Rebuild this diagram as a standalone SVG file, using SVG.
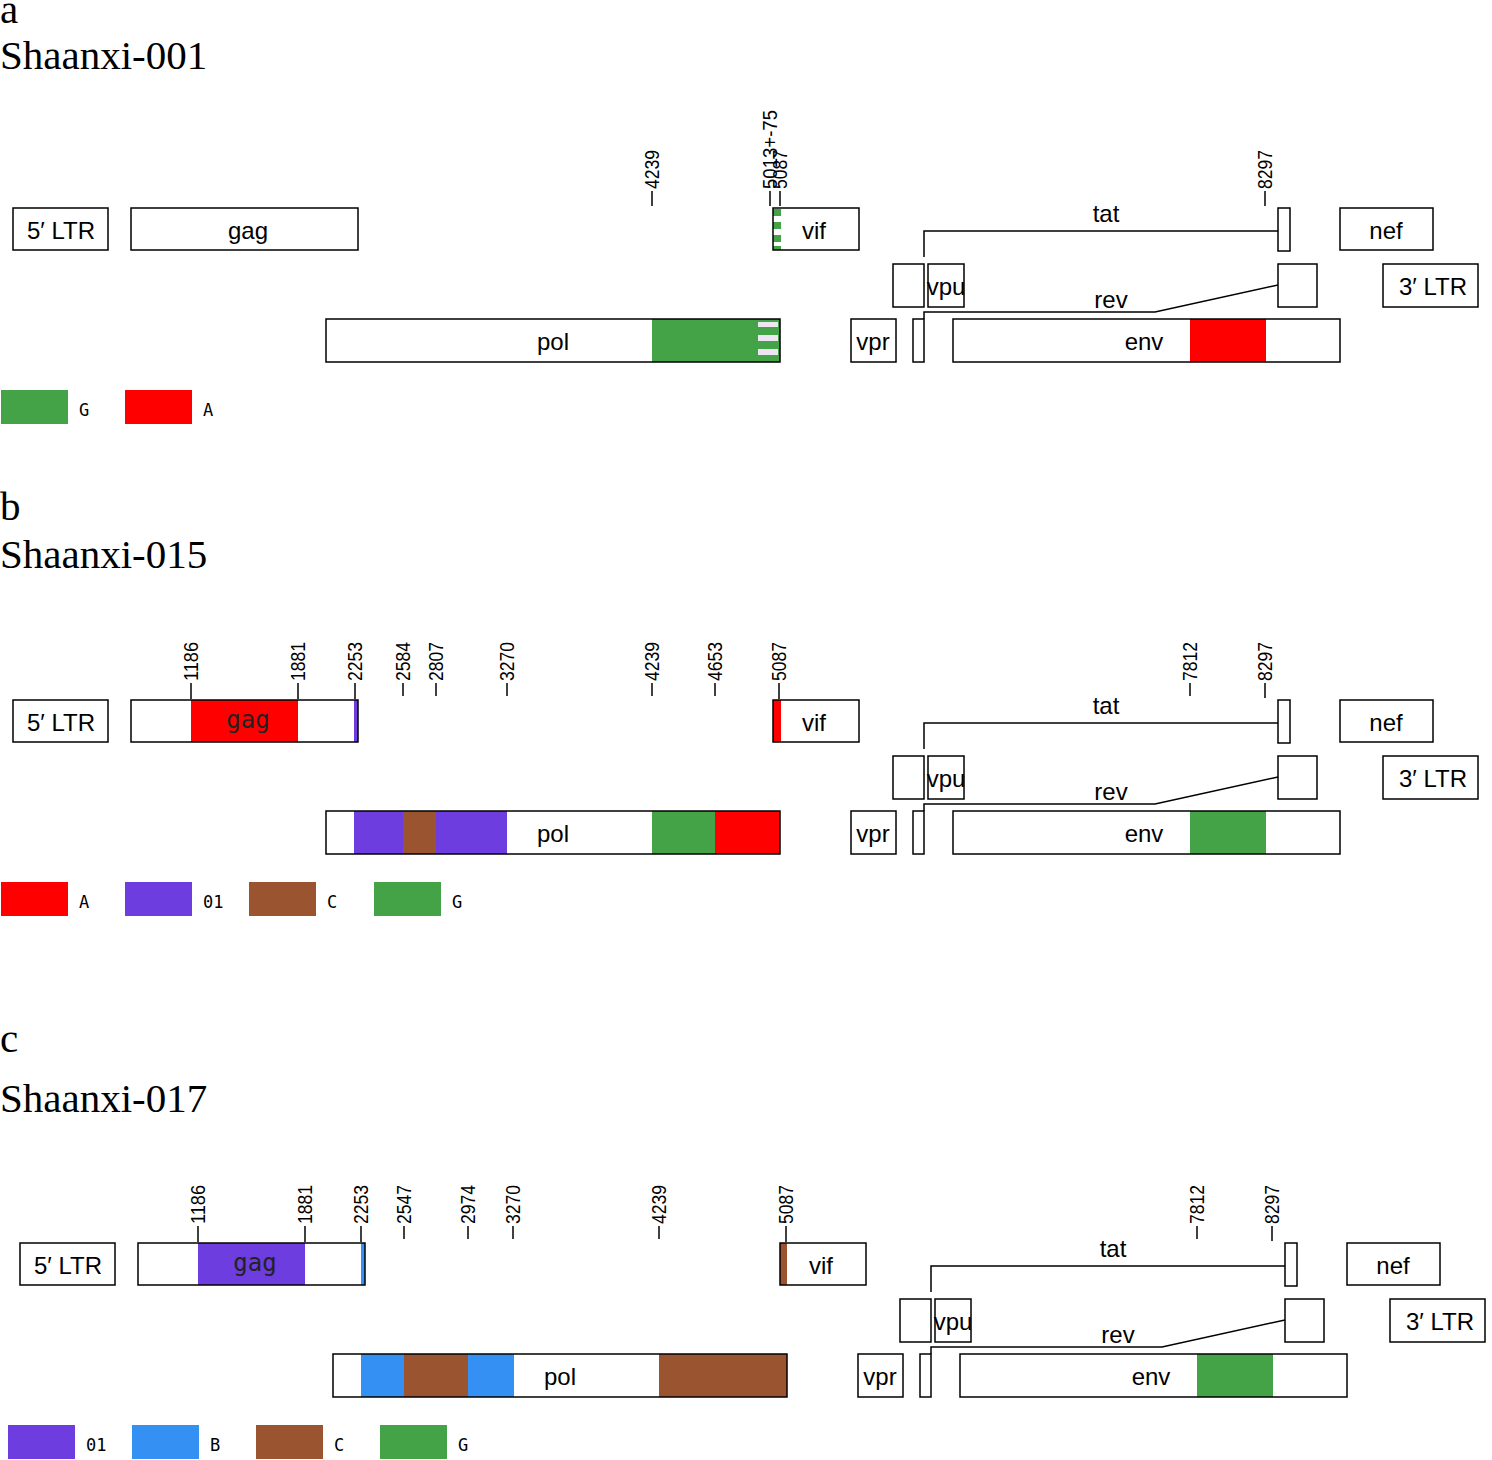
<svg xmlns="http://www.w3.org/2000/svg" width="1492" height="1460" viewBox="0 0 1492 1460">
<style>
.bg{fill:#fff;stroke:none}
.ol{fill:none;stroke:#000;stroke-width:1.5}
.ln{fill:none;stroke:#000;stroke-width:1.5}
.lb{font-family:"Liberation Sans",Arial,sans-serif;font-size:24px;fill:#000;text-anchor:middle}
.mono{font-family:"DejaVu Sans Mono",monospace;font-size:24px;fill:#222;text-anchor:middle}
.tk{font-family:"Liberation Sans",Arial,sans-serif;font-size:20px;fill:#000}
.lg{font-family:"DejaVu Sans Mono",monospace;font-size:17px;fill:#000}
.ttl{font-family:"Liberation Serif","Times New Roman",serif;font-size:41px;fill:#000}
.G{fill:#43a346}.A{fill:#ff0000}.P{fill:#6d3ddf}.C{fill:#9a5530}.B{fill:#3490f2}
</style>
<rect width="1492" height="1460" fill="#fff"/>

<!-- Titles -->
<g id="titles">
<text class="ttl" x="0" y="23">a</text>
<text class="ttl" x="0" y="69">Shaanxi-001</text>
<text class="ttl" x="0" y="520">b</text>
<text class="ttl" x="0" y="568">Shaanxi-015</text>
<text class="ttl" x="0" y="1052">c</text>
<text class="ttl" x="0" y="1112">Shaanxi-017</text>
</g>

<!-- ===================== Panel a ===================== -->
<g id="panel-a">
<g id="a-ltr5"><rect class="bg" x="13" y="208" width="95" height="42"/><rect class="ol" x="13" y="208" width="95" height="42"/><text class="lb" x="61" y="239">5′ LTR</text></g>
<g id="a-gag"><rect class="bg" x="131" y="208" width="227" height="42"/><rect class="ol" x="131" y="208" width="227" height="42"/><text class="lb" x="248" y="239">gag</text></g>
<g id="a-vif"><rect class="bg" x="773" y="208" width="86" height="42"/>
<rect class="G" x="773" y="209" width="8" height="7"/><rect class="G" x="773" y="222" width="8" height="7"/><rect class="G" x="773" y="235" width="8" height="7"/><rect class="G" x="773" y="246" width="8" height="4"/>
<rect class="ol" x="773" y="208" width="86" height="42"/><text class="lb" x="814" y="239">vif</text></g>
<g id="a-tat"><rect class="bg" x="1278" y="208" width="12" height="43"/><rect class="ol" x="1278" y="208" width="12" height="43"/><text class="lb" x="1106" y="222">tat</text></g>
<g id="a-nef"><rect class="bg" x="1340" y="208" width="93" height="42"/><rect class="ol" x="1340" y="208" width="93" height="42"/><text class="lb" x="1386" y="239">nef</text></g>
<g id="a-tat1"><rect class="ol" x="893" y="264" width="31" height="43"/></g>
<g id="a-vpu"><rect class="ol" x="928" y="264" width="36" height="43"/><text class="lb" x="946" y="295">vpu</text></g>
<g id="a-rev"><rect class="ol" x="1278" y="264" width="39" height="43"/><text class="lb" x="1111" y="308">rev</text></g>
<g id="a-ltr3"><rect class="ol" x="1383" y="264" width="95" height="43"/><text class="lb" x="1433" y="295">3′ LTR</text></g>
<g id="a-pol"><rect class="bg" x="326" y="319" width="454" height="43"/>
<rect class="G" x="652" y="319" width="128" height="43"/>
<rect fill="#ece6f2" x="758" y="322" width="20" height="5"/><rect fill="#ece6f2" x="758" y="335" width="20" height="6"/><rect fill="#ece6f2" x="758" y="349" width="20" height="6"/>
<rect class="ol" x="326" y="319" width="454" height="43"/><text class="lb" x="553" y="350">pol</text></g>
<g id="a-vpr"><rect class="ol" x="851" y="319" width="45" height="43"/><text class="lb" x="873" y="350">vpr</text></g>
<g id="a-rev1"><rect class="ol" x="913" y="319" width="11" height="43"/></g>
<g id="a-env"><rect class="bg" x="953" y="319" width="387" height="43"/><rect class="A" x="1190" y="319" width="76" height="43"/><rect class="ol" x="953" y="319" width="387" height="43"/><text class="lb" x="1144" y="350">env</text></g>
<g id="a-connectors">
<polyline class="ln" points="924,257 924,231 1278,231"/>
<polyline class="ln" points="924,319 924,312 1155,312 1278,285"/>
</g>
<g id="a-ticks">
<line class="ln" x1="652" y1="191" x2="652" y2="206"/><text class="tk" transform="translate(659,189) rotate(-90)" textLength="39" lengthAdjust="spacingAndGlyphs">4239</text>
<line class="ln" x1="770" y1="191" x2="770" y2="206"/><text class="tk" transform="translate(777,189) rotate(-90)" textLength="79" lengthAdjust="spacingAndGlyphs">5013+-75</text>
<line class="ln" x1="780" y1="191" x2="780" y2="206"/><text class="tk" transform="translate(787,189) rotate(-90)" textLength="39" lengthAdjust="spacingAndGlyphs">5087</text>
<line class="ln" x1="1265" y1="191" x2="1265" y2="206"/><text class="tk" transform="translate(1272,189) rotate(-90)" textLength="39" lengthAdjust="spacingAndGlyphs">8297</text>
</g>
<g id="a-legend">
<rect class="G" x="1" y="390" width="67" height="34"/><text class="lg" x="79" y="416">G</text>
<rect class="A" x="125" y="390" width="67" height="34"/><text class="lg" x="203" y="416">A</text>
</g>
</g>

<!-- ===================== Panel b ===================== -->
<g id="panel-b" transform="translate(0,492)">
<g id="b-ltr5"><rect class="bg" x="13" y="208" width="95" height="42"/><rect class="ol" x="13" y="208" width="95" height="42"/><text class="lb" x="61" y="239">5′ LTR</text></g>
<g id="b-gag"><rect class="bg" x="131" y="208" width="227" height="42"/><rect class="A" x="191" y="208" width="107" height="42"/><rect class="P" x="354" y="208" width="4" height="42"/><rect class="ol" x="131" y="208" width="227" height="42"/><text class="mono" x="248" y="236">gag</text></g>
<g id="b-vif"><rect class="bg" x="773" y="208" width="86" height="42"/><rect class="A" x="773" y="208" width="8" height="42"/><rect class="ol" x="773" y="208" width="86" height="42"/><text class="lb" x="814" y="239">vif</text></g>
<g id="b-tat"><rect class="bg" x="1278" y="208" width="12" height="43"/><rect class="ol" x="1278" y="208" width="12" height="43"/><text class="lb" x="1106" y="222">tat</text></g>
<g id="b-nef"><rect class="bg" x="1340" y="208" width="93" height="42"/><rect class="ol" x="1340" y="208" width="93" height="42"/><text class="lb" x="1386" y="239">nef</text></g>
<g id="b-tat1"><rect class="ol" x="893" y="264" width="31" height="43"/></g>
<g id="b-vpu"><rect class="ol" x="928" y="264" width="36" height="43"/><text class="lb" x="946" y="295">vpu</text></g>
<g id="b-rev"><rect class="ol" x="1278" y="264" width="39" height="43"/><text class="lb" x="1111" y="308">rev</text></g>
<g id="b-ltr3"><rect class="ol" x="1383" y="264" width="95" height="43"/><text class="lb" x="1433" y="295">3′ LTR</text></g>
<g id="b-pol"><rect class="bg" x="326" y="319" width="454" height="43"/>
<rect class="P" x="354" y="319" width="49" height="43"/><rect class="C" x="403" y="319" width="33" height="43"/><rect class="P" x="436" y="319" width="71" height="43"/>
<rect class="G" x="652" y="319" width="63" height="43"/><rect class="A" x="715" y="319" width="65" height="43"/>
<rect class="ol" x="326" y="319" width="454" height="43"/><text class="lb" x="553" y="350">pol</text></g>
<g id="b-vpr"><rect class="ol" x="851" y="319" width="45" height="43"/><text class="lb" x="873" y="350">vpr</text></g>
<g id="b-rev1"><rect class="ol" x="913" y="319" width="11" height="43"/></g>
<g id="b-env"><rect class="bg" x="953" y="319" width="387" height="43"/><rect class="G" x="1190" y="319" width="76" height="43"/><rect class="ol" x="953" y="319" width="387" height="43"/><text class="lb" x="1144" y="350">env</text></g>
<g id="b-connectors">
<polyline class="ln" points="924,257 924,231 1278,231"/>
<polyline class="ln" points="924,319 924,312 1155,312 1278,285"/>
</g>
<g id="b-ticks">
<line class="ln" x1="191" y1="191" x2="191" y2="207"/><text class="tk" transform="translate(198,189) rotate(-90)" textLength="39" lengthAdjust="spacingAndGlyphs">1186</text>
<line class="ln" x1="298" y1="191" x2="298" y2="207"/><text class="tk" transform="translate(305,189) rotate(-90)" textLength="39" lengthAdjust="spacingAndGlyphs">1881</text>
<line class="ln" x1="355" y1="191" x2="355" y2="207"/><text class="tk" transform="translate(362,189) rotate(-90)" textLength="39" lengthAdjust="spacingAndGlyphs">2253</text>
<line class="ln" x1="403" y1="191" x2="403" y2="204"/><text class="tk" transform="translate(410,189) rotate(-90)" textLength="39" lengthAdjust="spacingAndGlyphs">2584</text>
<line class="ln" x1="436" y1="191" x2="436" y2="204"/><text class="tk" transform="translate(443,189) rotate(-90)" textLength="39" lengthAdjust="spacingAndGlyphs">2807</text>
<line class="ln" x1="507" y1="191" x2="507" y2="204"/><text class="tk" transform="translate(514,189) rotate(-90)" textLength="39" lengthAdjust="spacingAndGlyphs">3270</text>
<line class="ln" x1="652" y1="191" x2="652" y2="204"/><text class="tk" transform="translate(659,189) rotate(-90)" textLength="39" lengthAdjust="spacingAndGlyphs">4239</text>
<line class="ln" x1="715" y1="191" x2="715" y2="204"/><text class="tk" transform="translate(722,189) rotate(-90)" textLength="39" lengthAdjust="spacingAndGlyphs">4653</text>
<line class="ln" x1="779" y1="191" x2="779" y2="207"/><text class="tk" transform="translate(786,189) rotate(-90)" textLength="39" lengthAdjust="spacingAndGlyphs">5087</text>
<line class="ln" x1="1190" y1="191" x2="1190" y2="204"/><text class="tk" transform="translate(1197,189) rotate(-90)" textLength="39" lengthAdjust="spacingAndGlyphs">7812</text>
<line class="ln" x1="1265" y1="191" x2="1265" y2="206"/><text class="tk" transform="translate(1272,189) rotate(-90)" textLength="39" lengthAdjust="spacingAndGlyphs">8297</text>
</g>
<g id="b-legend">
<rect class="A" x="1" y="390" width="67" height="34"/><text class="lg" x="79" y="416">A</text>
<rect class="P" x="125" y="390" width="67" height="34"/><text class="lg" x="203" y="416">01</text>
<rect class="C" x="249" y="390" width="67" height="34"/><text class="lg" x="327" y="416">C</text>
<rect class="G" x="374" y="390" width="67" height="34"/><text class="lg" x="452" y="416">G</text>
</g>
</g>

<!-- ===================== Panel c ===================== -->
<g id="panel-c" transform="translate(7,1035)">
<g id="c-ltr5"><rect class="bg" x="13" y="208" width="95" height="42"/><rect class="ol" x="13" y="208" width="95" height="42"/><text class="lb" x="61" y="239">5′ LTR</text></g>
<g id="c-gag"><rect class="bg" x="131" y="208" width="227" height="42"/><rect class="P" x="191" y="208" width="107" height="42"/><rect class="B" x="354" y="208" width="4" height="42"/><rect class="ol" x="131" y="208" width="227" height="42"/><text class="mono" x="248" y="236">gag</text></g>
<g id="c-vif"><rect class="bg" x="773" y="208" width="86" height="42"/><rect class="C" x="773" y="208" width="7" height="42"/><rect class="ol" x="773" y="208" width="86" height="42"/><text class="lb" x="814" y="239">vif</text></g>
<g id="c-tat"><rect class="bg" x="1278" y="208" width="12" height="43"/><rect class="ol" x="1278" y="208" width="12" height="43"/><text class="lb" x="1106" y="222">tat</text></g>
<g id="c-nef"><rect class="bg" x="1340" y="208" width="93" height="42"/><rect class="ol" x="1340" y="208" width="93" height="42"/><text class="lb" x="1386" y="239">nef</text></g>
<g id="c-tat1"><rect class="ol" x="893" y="264" width="31" height="43"/></g>
<g id="c-vpu"><rect class="ol" x="928" y="264" width="36" height="43"/><text class="lb" x="946" y="295">vpu</text></g>
<g id="c-rev"><rect class="ol" x="1278" y="264" width="39" height="43"/><text class="lb" x="1111" y="308">rev</text></g>
<g id="c-ltr3"><rect class="ol" x="1383" y="264" width="95" height="43"/><text class="lb" x="1433" y="295">3′ LTR</text></g>
<g id="c-pol"><rect class="bg" x="326" y="319" width="454" height="43"/>
<rect class="B" x="354" y="319" width="43" height="43"/><rect class="C" x="397" y="319" width="64" height="43"/><rect class="B" x="461" y="319" width="46" height="43"/>
<rect class="C" x="652" y="319" width="128" height="43"/>
<rect class="ol" x="326" y="319" width="454" height="43"/><text class="lb" x="553" y="350">pol</text></g>
<g id="c-vpr"><rect class="ol" x="851" y="319" width="45" height="43"/><text class="lb" x="873" y="350">vpr</text></g>
<g id="c-rev1"><rect class="ol" x="913" y="319" width="11" height="43"/></g>
<g id="c-env"><rect class="bg" x="953" y="319" width="387" height="43"/><rect class="G" x="1190" y="319" width="76" height="43"/><rect class="ol" x="953" y="319" width="387" height="43"/><text class="lb" x="1144" y="350">env</text></g>
<g id="c-connectors">
<polyline class="ln" points="924,257 924,231 1278,231"/>
<polyline class="ln" points="924,319 924,312 1155,312 1278,285"/>
</g>
<g id="c-ticks">
<line class="ln" x1="191" y1="191" x2="191" y2="207"/><text class="tk" transform="translate(198,189) rotate(-90)" textLength="39" lengthAdjust="spacingAndGlyphs">1186</text>
<line class="ln" x1="298" y1="191" x2="298" y2="207"/><text class="tk" transform="translate(305,189) rotate(-90)" textLength="39" lengthAdjust="spacingAndGlyphs">1881</text>
<line class="ln" x1="354" y1="191" x2="354" y2="207"/><text class="tk" transform="translate(361,189) rotate(-90)" textLength="39" lengthAdjust="spacingAndGlyphs">2253</text>
<line class="ln" x1="397" y1="191" x2="397" y2="204"/><text class="tk" transform="translate(404,189) rotate(-90)" textLength="39" lengthAdjust="spacingAndGlyphs">2547</text>
<line class="ln" x1="461" y1="191" x2="461" y2="204"/><text class="tk" transform="translate(468,189) rotate(-90)" textLength="39" lengthAdjust="spacingAndGlyphs">2974</text>
<line class="ln" x1="506" y1="191" x2="506" y2="204"/><text class="tk" transform="translate(513,189) rotate(-90)" textLength="39" lengthAdjust="spacingAndGlyphs">3270</text>
<line class="ln" x1="652" y1="191" x2="652" y2="204"/><text class="tk" transform="translate(659,189) rotate(-90)" textLength="39" lengthAdjust="spacingAndGlyphs">4239</text>
<line class="ln" x1="779" y1="191" x2="779" y2="207"/><text class="tk" transform="translate(786,189) rotate(-90)" textLength="39" lengthAdjust="spacingAndGlyphs">5087</text>
<line class="ln" x1="1190" y1="191" x2="1190" y2="204"/><text class="tk" transform="translate(1197,189) rotate(-90)" textLength="39" lengthAdjust="spacingAndGlyphs">7812</text>
<line class="ln" x1="1265" y1="191" x2="1265" y2="206"/><text class="tk" transform="translate(1272,189) rotate(-90)" textLength="39" lengthAdjust="spacingAndGlyphs">8297</text>
</g>
<g id="c-legend">
<rect class="P" x="1" y="390" width="67" height="34"/><text class="lg" x="79" y="416">01</text>
<rect class="B" x="125" y="390" width="67" height="34"/><text class="lg" x="203" y="416">B</text>
<rect class="C" x="249" y="390" width="67" height="34"/><text class="lg" x="327" y="416">C</text>
<rect class="G" x="373" y="390" width="67" height="34"/><text class="lg" x="451" y="416">G</text>
</g>
</g>
</svg>
